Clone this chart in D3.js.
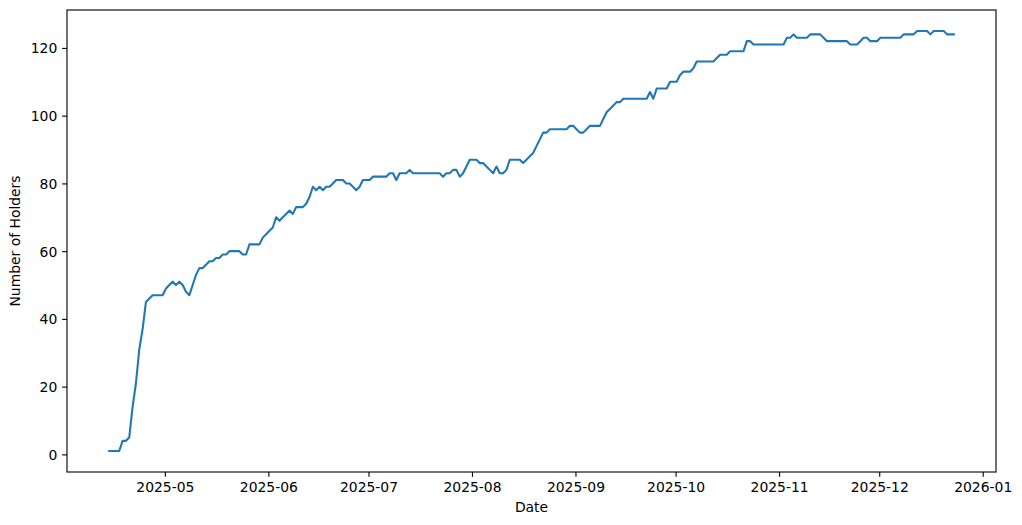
<!DOCTYPE html>
<html>
<head>
<meta charset="utf-8">
<script src="https://cdn.jsdelivr.net/npm/d3@7"></script>
<style>
  html, body { margin: 0; padding: 0; background: #ffffff; }
  svg { display: block; }
  text { font-family: "DejaVu Sans", sans-serif; fill: #000; }
</style>
</head>
<body>
<svg id="chart" width="1022" height="525"></svg>
<script>
// ---- data ----
const startDate = "2025-04-14T08:00"; // first daily observation (UTC)
const holders = [
  1, 1, 1, 1, 4, 4, 5, 14, 21, 31, 37, 45, 46, 47, 47, 47, 47,
  49, 50, 51, 50, 51, 50, 48, 47, 50, 53, 55, 55, 56, 57, 57, 58, 58, 59, 59,
  60, 60, 60, 60, 59, 59, 62, 62, 62, 62, 64, 65,
  66, 67, 70, 69, 70, 71, 72, 71, 73, 73, 73, 74, 76, 79, 78, 79, 78, 79, 79,
  80, 81, 81, 81, 80, 80, 79, 78, 79, 81, 81,
  81, 82, 82, 82, 82, 82, 83, 83, 81, 83, 83, 83, 84,
  83, 83, 83, 83, 83, 83, 83, 83, 83, 82, 83, 83, 84, 84, 82, 83, 85, 87,
  87, 87, 86, 86, 85, 84, 83, 85, 83, 83, 84, 87, 87, 87, 87, 86, 87, 88, 89,
  91, 93, 95, 95, 96, 96, 96, 96, 96, 96, 97, 97,
  96, 95, 95, 96, 97, 97, 97, 97, 99, 101, 102, 103, 104, 104,
  105, 105, 105, 105, 105, 105, 105, 105, 107, 105, 108, 108, 108, 108, 110, 110,
  110, 112, 113, 113, 113, 114, 116, 116, 116, 116, 116, 116, 117, 118, 118, 118,
  119, 119, 119, 119, 119, 122, 122, 121, 121, 121, 121, 121, 121, 121, 121,
  121, 121, 123, 123, 124, 123, 123, 123, 123, 124, 124, 124, 124, 123,
  122, 122, 122, 122, 122, 122, 122, 121, 121, 121, 122, 123, 123, 122, 122, 122,
  123, 123, 123, 123, 123, 123, 123, 124, 124, 124, 124, 125, 125, 125, 125,
  124, 125, 125, 125, 125, 124, 124, 124
];
const xTicks = ["2025-05-01", "2025-06-01", "2025-07-01", "2025-08-01",
                "2025-09-01", "2025-10-01", "2025-11-01", "2025-12-01", "2026-01-01"];
const yTicks = [0, 20, 40, 60, 80, 100, 120];
const xLabel = "Date";
const yLabel = "Number of Holders";

// ---- layout ----
const W = 1022, H = 525;
const margin = { left: 67, top: 10, right: 26, bottom: 53 };
const iw = W - margin.left - margin.right;
const ih = H - margin.top - margin.bottom;
const fontSize = 13.9;

const parseStart = d3.utcParse("%Y-%m-%dT%H:%M");
const parseTick = d3.utcParse("%Y-%m-%d");
const t0 = parseStart(startDate);
const data = holders.map((v, i) => ({ date: d3.utcDay.offset(t0, i), value: v }));

// matplotlib-style 5% margins
const xExt = d3.extent(data, d => d.date);
const xPad = (xExt[1] - xExt[0]) * 0.05;
const x = d3.scaleUtc()
  .domain([new Date(+xExt[0] - xPad), new Date(+xExt[1] + xPad)])
  .range([0, iw]);
const yExt = d3.extent(data, d => d.value);
const yPad = (yExt[1] - yExt[0]) * 0.05;
const y = d3.scaleLinear()
  .domain([yExt[0] - yPad, yExt[1] + yPad])
  .range([ih, 0]);

const svg = d3.select("#chart");
const g = svg.append("g").attr("transform", `translate(${margin.left},${margin.top})`);

// line
const line = d3.line().x(d => x(d.date)).y(d => y(d.value));
g.append("path")
  .datum(data)
  .attr("fill", "none")
  .attr("stroke", "#1f77b4")
  .attr("stroke-width", 2.08)
  .attr("stroke-linejoin", "round")
  .attr("stroke-linecap", "square")
  .attr("d", line);

// axes
const fmt = d3.utcFormat("%Y-%m");
const xAxis = d3.axisBottom(x)
  .tickValues(xTicks.map(parseTick))
  .tickFormat(fmt)
  .tickSize(4.86)
  .tickPadding(4.86);
const yAxis = d3.axisLeft(y)
  .tickValues(yTicks)
  .tickFormat(d3.format("d"))
  .tickSize(4.86)
  .tickPadding(4.86);

const gx = g.append("g").attr("transform", `translate(0,${ih})`).call(xAxis);
const gy = g.append("g").call(yAxis);

[gx, gy].forEach(a => {
  a.select(".domain").remove();
  a.selectAll(".tick line").attr("stroke", "#000").attr("stroke-width", 1.11);
  a.selectAll(".tick text")
    .attr("fill", "#000")
    .style("font-family", "'DejaVu Sans', sans-serif")
    .style("font-size", fontSize + "px");
});
gx.selectAll(".tick text").attr("dy", "0.76em");
gy.selectAll(".tick text").attr("dy", "0.36em");

// frame (spines)
g.append("rect")
  .attr("x", 0).attr("y", 0)
  .attr("width", iw).attr("height", ih)
  .attr("fill", "none")
  .attr("stroke", "#000")
  .attr("stroke-width", 1.11);

// axis labels
svg.append("text")
  .attr("x", margin.left + iw / 2)
  .attr("y", 512)
  .attr("text-anchor", "middle")
  .style("font-size", fontSize + "px")
  .text(xLabel);

svg.append("text")
  .attr("transform", `translate(20,${margin.top + ih / 2}) rotate(-90)`)
  .attr("text-anchor", "middle")
  .style("font-size", fontSize + "px")
  .text(yLabel);
</script>
</body>
</html>
